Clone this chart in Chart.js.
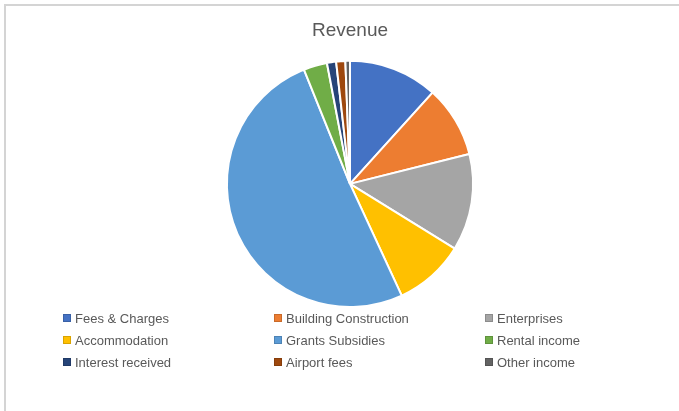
<!DOCTYPE html>
<html>
<head>
<meta charset="utf-8">
<script src="https://cdn.jsdelivr.net/npm/chart.js@4/dist/chart.umd.min.js"></script>
<style>
  html, body { margin: 0; padding: 0; background: #fff; }
  #wrap { position: relative; width: 679px; height: 411px; overflow: hidden; }
  #frame { position: absolute; left: 4px; top: 4px; width: 800px; height: 500px;
           border-left: 2px solid #d4d4d4; border-top: 2px solid #d4d4d4; }
  #revChart { position: absolute; left: 0; top: 0; }
  #legend { position: absolute; left: 63px; top: 307px; display: grid;
            grid-template-columns: 211px 211px 150px; grid-auto-rows: 22px;
            font: 13px "Liberation Sans", Arial, sans-serif; color: #595959; }
  #legend div { display: flex; align-items: center; white-space: nowrap; }
  #legend span.box { width: 6px; height: 6px; margin-right: 4px; border: 1px solid rgba(0,0,0,0.15); }
</style>
</head>
<body>
<div id="wrap">
  <div id="frame"></div>
  <canvas id="revChart" width="679" height="411"></canvas>
  <div id="legend"></div>
</div>
<script>
const categories = ['Fees & Charges', 'Building Construction', 'Enterprises',
  'Accommodation', 'Grants Subsidies', 'Rental income',
  'Interest received', 'Airport fees', 'Other income'];
// share of revenue, %
const revenueShare = [11.7, 9.4, 12.7, 9.3, 50.8, 3.1, 1.2, 1.2, 0.6];
const sliceColors = ['#4472C4', '#ED7D31', '#A5A5A5', '#FFC000', '#5B9BD5',
  '#70AD47', '#264478', '#9E480E', '#636363'];

const ctx = document.getElementById('revChart').getContext('2d');
const chart = new Chart(ctx, {
  type: 'pie',
  data: {
    labels: categories,
    datasets: [{
      data: revenueShare,
      backgroundColor: sliceColors,
      borderColor: '#ffffff',
      borderWidth: 2
    }]
  },
  options: {
    responsive: false,
    animation: false,
    layout: { padding: { top: 8, bottom: 103, left: 100, right: 79 } },
    plugins: {
      legend: { display: false },
      tooltip: { enabled: false },
      title: {
        display: true,
        text: 'Revenue',
        color: '#595959',
        font: { family: '"Liberation Sans", Arial, sans-serif', size: 19, weight: 'normal' },
        padding: { top: 11, bottom: 18 }
      }
    }
  }
});

// legend in three columns like the Excel one
const legendEl = document.getElementById('legend');
chart.options.plugins.legend.labels.generateLabels(chart).forEach(item => {
  const row = document.createElement('div');
  const box = document.createElement('span');
  box.className = 'box';
  box.style.background = item.fillStyle;
  row.appendChild(box);
  row.appendChild(document.createTextNode(item.text));
  legendEl.appendChild(row);
});
</script>
</body>
</html>
